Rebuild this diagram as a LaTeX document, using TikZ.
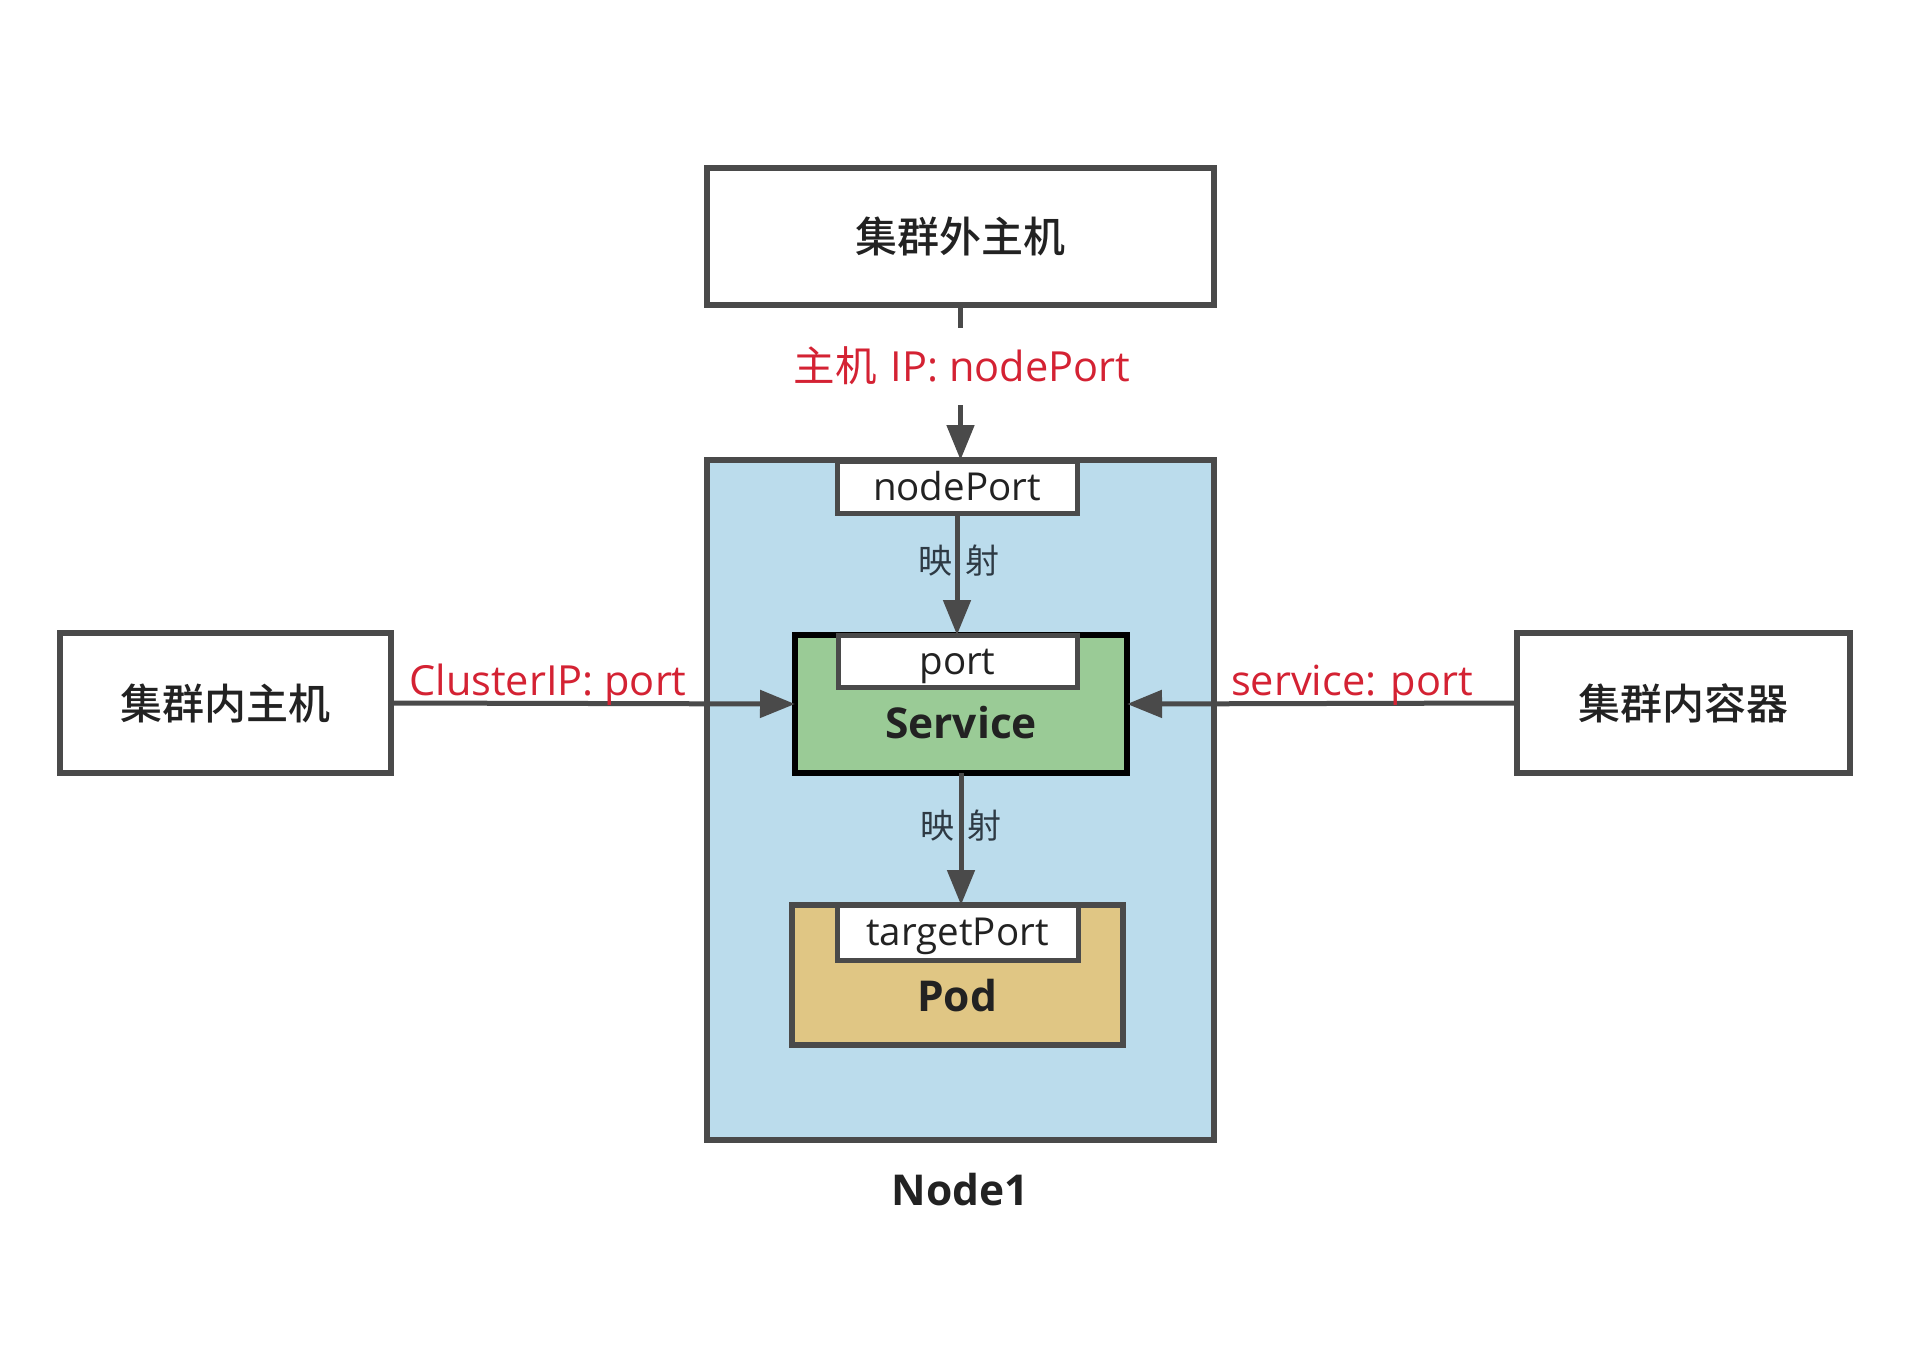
\documentclass[tikz,border=0pt]{standalone}
\usepackage{fontspec}
\setmainfont{Open Sans}
\newfontfamily\cjk{Noto Sans CJK SC}
\newfontfamily\cjkmed{Noto Sans CJK SC Medium}
\usetikzlibrary{arrows.meta}
\definecolor{linegray}{HTML}{4A4A4A}
\definecolor{textdark}{HTML}{222222}
\definecolor{mapdark}{HTML}{2E3A44}
\definecolor{labred}{HTML}{D42233}
\definecolor{nodeblue}{HTML}{BBDCEC}
\definecolor{svcgreen}{HTML}{9ACB96}
\definecolor{podtan}{HTML}{E0C684}
\tikzset{
  hostbox/.style={draw=linegray, line width=6pt, fill=white, inner sep=0pt, outer sep=0pt,
    font=\cjkmed\fontsize{42}{50}\selectfont, text=textdark},
  portbox/.style={draw=linegray, line width=5pt, fill=white, inner sep=0pt, outer sep=0pt,
    font=\fontsize{38.5}{46}\selectfont, text=textdark, text height=26pt, text depth=0pt},
  conn/.style={draw=linegray, line width=5pt, -{Triangle[length=35pt,width=27pt]}},
  stub/.style={draw=linegray, line width=5pt},
  redlab/.style={text=labred, font=\fontsize{41.5}{50}\selectfont, inner sep=0pt},
  maplab/.style={text=mapdark, font=\cjk\fontsize{34}{40}\selectfont, inner sep=0pt},
  boldlab/.style={text=textdark, font=\bfseries\fontsize{42.5}{50}\selectfont, inner sep=0pt}
}
\begin{document}
\begin{tikzpicture}[x=1pt,y=-1pt]
\useasboundingbox[fill=white] (0,0) rectangle (1918,1344);

% hosts
\node[hostbox, minimum width=507pt, minimum height=137pt] (out) at (960.5,236.5) {集群外主机};
\node[hostbox, minimum width=331pt, minimum height=140pt] (inhost) at (225.5,703) {集群内主机};
\node[hostbox, minimum width=333pt, minimum height=140pt] (inctr) at (1683.5,703) {集群内容器};

% Node1 region
\node[draw=linegray, line width=6pt, fill=nodeblue, minimum width=507pt, minimum height=680pt,
      inner sep=0pt, outer sep=0pt] (node1) at (960.5,800) {};
\node[boldlab] (node1lab) at (960,1190) {Node1};

% nodePort
\node[portbox, minimum width=240pt, minimum height=52pt] (np) at (957,487) {nodePort};

% Service
\node[draw=black, line width=6pt, fill=svcgreen, minimum width=332pt, minimum height=138pt,
      inner sep=0pt, outer sep=0pt] (svc) at (961,704) {};
\node[portbox, minimum width=239pt, minimum height=52pt] (port) at (957.5,661) {port};
\node[boldlab] (svclab) at (961,723) {Service};

% Pod
\node[draw=linegray, line width=6pt, fill=podtan, minimum width=331pt, minimum height=140pt,
      inner sep=0pt, outer sep=0pt] (pod) at (957.5,975) {};
\node[portbox, minimum width=241pt, minimum height=55pt] (tp) at (957.5,932.5) {targetPort};
\node[boldlab] (podlab) at (957,996) {Pod};

% top connector
\coordinate (stubend) at (960.5,328);
\coordinate (arrstart) at (960.5,405);
\draw[stub] (out.south) -- (stubend);
\node[redlab] (toplab) at (962,366) {{\cjk 主机}\hspace{14pt}IP: nodePort};
\draw[conn] (arrstart) -- (arrstart |- node1.north);

% internal mappings
\draw[conn] (np.south) -- (np.south |- svc.north);
\node[maplab] (map1) at (959,561) {映\hspace{13pt}射};
\draw[conn] (svc.south) -- (svc.south |- pod.north);
\node[maplab] (map2) at (961,826) {映\hspace{13pt}射};

% side connectors
\draw[conn] (inhost.east) -- (svc.west);
\node[redlab, anchor=base] (cllab) at (548,695) {ClusterIP: port};
\draw[conn] (inctr.west) -- (svc.east);
\node[redlab, anchor=base] (svlab) at (1352,695) {service: port};
\end{tikzpicture}
\end{document}
